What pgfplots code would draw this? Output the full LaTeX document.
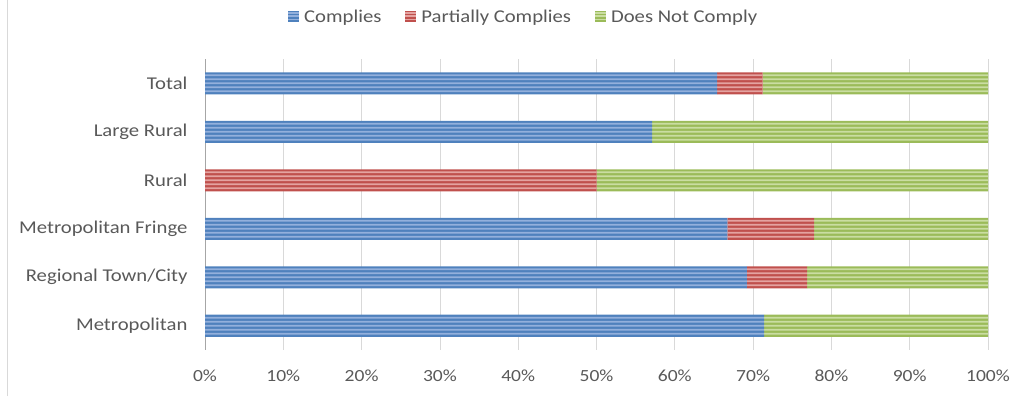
\documentclass[border=0pt]{standalone}
\usepackage{fontspec}
\setmainfont{Carlito}[FakeStretch=1.15]
\usepackage{pgfplots}
\usepackage{pgfplotstable}
\pgfplotsset{compat=1.18}

\definecolor{cblue}{HTML}{4F81BD}
\definecolor{cbluel}{HTML}{93B0DC}
\definecolor{cred}{HTML}{C0504D}
\definecolor{credl}{HTML}{E4A3A1}
\definecolor{cgreen}{HTML}{9BBB59}
\definecolor{cgreenl}{HTML}{CADDA2}
\definecolor{labgray}{HTML}{595959}
\definecolor{gridgray}{HTML}{D9D9D9}

% share of councils per region type (percent)
\pgfplotstableread{
y comp part non
0 71.4 0    28.6
1 69.2 7.7  23.1
2 66.7 11.1 22.2
3 0    50   50
4 57.1 0    42.9
5 65.4 5.8  28.8
}\data

\pgfplotsset{
  frame/.style={
    at={(205pt,46pt)}, anchor=south west,
    scale only axis, width=783pt, height=291pt,
    xmin=0, xmax=100, ymin=-0.5, ymax=5.5,
    xbar stacked},
}

\begin{document}
\begin{tikzpicture}
\useasboundingbox (0,0) rectangle (1027pt,396pt);
\draw[gridgray, line width=1pt] (7pt,0) -- (7pt,396pt);
\begin{axis}[
  frame, bar width=22pt,
  xtick={0,10,...,100},
  xticklabels={0\%,10\%,20\%,30\%,40\%,50\%,60\%,70\%,80\%,90\%,100\%},
  ytick={0,1,2,3,4,5},
  yticklabels={Metropolitan,Regional Town/City,Metropolitan Fringe,Rural,Large Rural,Total},
  major tick length=0pt,
  xmajorgrids, grid style={gridgray, line width=0.8pt},
  axis x line*=bottom, x axis line style={draw=none},
  axis y line*=left, y axis line style={draw=gray!70, line width=1pt},
  tick label style={font=\fontsize{18}{20}\selectfont, text=labgray},
  xticklabel style={font=\fontsize{17}{20}\selectfont, yshift=-16pt},
  yticklabel style={xshift=-14pt},
  legend columns=3,
  legend style={at={(0.407,1.144)}, anchor=center, draw=none,
    font=\fontsize{18}{20}\selectfont, text=labgray,
    /tikz/every odd column/.append style={column sep=3pt},
    /tikz/every even column/.append style={column sep=22pt}},
]
\addplot[draw=none, fill=cblue,
  legend image code/.code={\fill[cblue] (0pt,-5pt) rectangle (11pt,6pt);
    \foreach \v in {-3,0.5,3.5}{\fill[cbluel] (0pt,\v pt) rectangle (11pt,\v pt+1.2pt);}}]
  table[x=comp, y=y] {\data};
\addplot[draw=none, fill=cred,
  legend image code/.code={\fill[cred] (0pt,-5pt) rectangle (11pt,6pt);
    \foreach \v in {-3,0.5,3.5}{\fill[credl] (0pt,\v pt) rectangle (11pt,\v pt+1.2pt);}}]
  table[x=part, y=y] {\data};
\addplot[draw=none, fill=cgreen,
  legend image code/.code={\fill[cgreen] (0pt,-5pt) rectangle (11pt,6pt);
    \foreach \v in {-3,0.5,3.5}{\fill[cgreenl] (0pt,\v pt) rectangle (11pt,\v pt+1.2pt);}}]
  table[x=non, y=y] {\data};
\legend{Complies, Partially Complies, Does Not Comply}
\end{axis}
% lighter horizontal pinstripes over each bar segment
\foreach \s in {-8,-4,0,4,8}{
  \begin{axis}[frame, hide axis, bar width=1.8pt, bar shift=\s pt]
    \addplot[draw=none, fill=cbluel] table[x=comp, y=y] {\data};
    \addplot[draw=none, fill=credl] table[x=part, y=y] {\data};
    \addplot[draw=none, fill=cgreenl] table[x=non, y=y] {\data};
  \end{axis}
}
\end{tikzpicture}
\end{document}
